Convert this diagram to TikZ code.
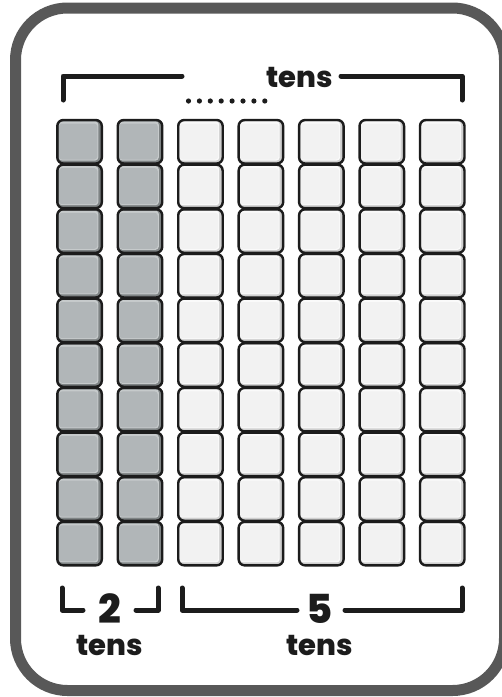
\documentclass[tikz,border=0pt]{standalone}
\usepackage{fontspec}
\setmainfont{Poppins}[BoldFont={Poppins ExtraBold}]
\definecolor{frame}{HTML}{585858}
\definecolor{ink}{HTML}{1C1C1C}
\definecolor{darkmain}{HTML}{B1B6B8}
\definecolor{darkshade}{HTML}{7E8384}
\definecolor{darktop}{HTML}{C6CACB}
\definecolor{lightmain}{HTML}{F2F2F2}
\definecolor{lightshade}{HTML}{D0D0D0}
\definecolor{lighttop}{HTML}{FAFAFA}
\tikzset{
  bracketline/.style={ink, line width=5pt, line cap=round, line join=round},
  lbl/.style={ink, font=\bfseries\fontsize{29}{29}\selectfont, anchor=base, inner sep=0pt},
  num/.style={ink, font=\bfseries\fontsize{40}{40}\selectfont, anchor=base, inner sep=0pt},
  tileedge/.style={ink, line width=2.4pt, rounded corners=6pt},
}
\newcommand\mytile[5]{%
  \fill[#4, rounded corners=5pt] (#1,#2) rectangle ++(44.5,43.5);
  \fill[#5, rounded corners=3pt] (#1+1.5,#2+1.5) rectangle (#1+41,#2+40.5);
  \fill[#3, rounded corners=3pt] (#1+1.5,#2+3.5) rectangle (#1+40,#2+39.5);
  \draw[tileedge] (#1,#2) rectangle ++(44.5,43.5);
}
\begin{document}
\begin{tikzpicture}[x=1pt,y=-1pt]
\useasboundingbox (0,0) rectangle (502,697);
\fill[white] (0,0) rectangle (502,697);
% outer frame
\draw[frame, line width=11pt, rounded corners=52pt] (15.5,8) rectangle (504.5,690.5);
% tiles
\foreach \i in {0,...,6}{
  \foreach \j in {0,...,9}{
    \pgfmathsetmacro\tx{57.3+60.45*\i}
    \pgfmathsetmacro\ty{120+44.65*\j}
    \ifnum\i<2
      \mytile{\tx}{\ty}{darkmain}{darkshade}{darktop}
    \else
      \mytile{\tx}{\ty}{lightmain}{lightshade}{lighttop}
    \fi
  }
}
% top bracket
\node[lbl] (toplabel) at (300,87) {tens};
\coordinate (tl) at (63,100);
\coordinate (tr) at (462,100);
\draw[bracketline] (tl) |- (182,76);
\draw[bracketline] (341,76) -| (tr);
\foreach \k in {0,...,7}{
  \fill[ink] (188.5+10.9*\k,101) circle (2.6pt);
}
% bottom left bracket
\node[num] (two) at (110,623) {2};
\node[lbl] (twotens) at (110,655) {tens};
\draw[bracketline] (62,588) |- (83,610);
\draw[bracketline] (136,610) -| (158,588);
% bottom right bracket
\node[num] (five) at (320,623) {5};
\node[lbl] (fivetens) at (320,655) {tens};
\draw[bracketline] (182,588) |- (297,610);
\draw[bracketline] (345,610) -| (462,588);
\end{tikzpicture}
\end{document}
